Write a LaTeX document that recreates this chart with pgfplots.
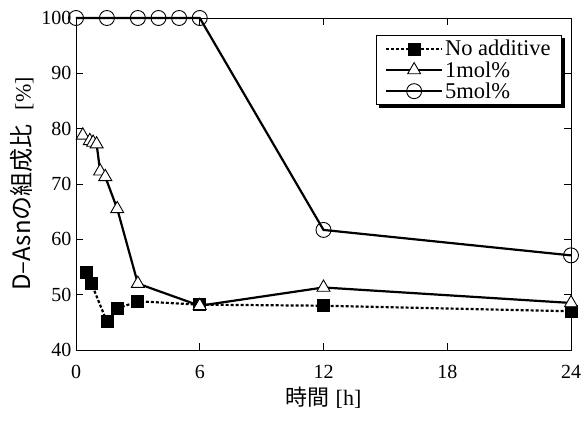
\documentclass[border=0pt]{standalone}
\usepackage{pgfplots}
\pgfplotsset{compat=1.18}
\usepackage{fontspec}
\setmainfont{Liberation Serif}
\newfontfamily\jp{Noto Sans CJK JP}
\begin{document}
\begin{tikzpicture}
\useasboundingbox (0,0) rectangle (584pt,421pt);
\begin{axis}[
  at={(76pt,71pt)}, anchor=south west,
  scale only axis, width=495pt, height=332pt,
  xmin=0, xmax=24, ymin=40, ymax=100,
  xtick={0,6,12,18,24}, ytick={40,50,...,100},
  tick align=inside, major tick length=7pt,
  tick style={black, line width=0.7pt},
  axis line style={line width=0.9pt},
  clip=false,
  tick label style={font=\fontsize{20}{20}\selectfont},
  /pgf/number format/assume math mode=true,
  xticklabel style={yshift=-12pt},
  yticklabel style={xshift=-1pt},
  xlabel={{\jp 時間}\hspace{6pt}[h]},
  ylabel={{\fontsize{24}{24}\selectfont\jp D–Asnの組成比}\hspace{14pt}[\%]},
  label style={font=\fontsize{22}{22}\selectfont},
  xlabel style={yshift=-1pt},
  ylabel style={yshift=1pt},
  legend style={at={(0.982,0.949)}, anchor=north east, name=leg,
    font=\fontsize{22.5}{24}\selectfont, draw=black, line width=0.9pt,
    fill=white, row sep=0pt, inner xsep=9pt, inner ysep=3pt},
  legend cell align=left,
  legend image code/.code={\draw[mark repeat=2,mark phase=2,#1,line width=1.8pt] plot coordinates {(0pt,0pt) (28pt,0pt) (56pt,0pt)};},
]
\addplot[black, line width=2.2pt, dash pattern=on 3pt off 2pt, mark=square*, mark size=6pt, mark options={solid, fill=black, line width=0.8pt}]
  coordinates {(0.5,54) (0.75,52) (1.5,45.1) (2,47.5) (3,48.8) (6,48.2) (12,48) (24,47)};
\addlegendentry{No additive}
\addplot[black, line width=2.2pt, mark=triangle*, mark size=7.5pt, mark options={solid, fill=white, line width=0.9pt}]
  coordinates {(0.33,78.8) (0.67,77.8) (0.83,77.5) (1.0,77.2) (1.17,72.3) (1.42,71.3) (2,65.5) (3,52) (6,48) (12,51.3) (24,48.5)};
\addlegendentry{1mol\%}
\addplot[black, line width=2.2pt, mark=o, mark size=7.5pt, mark options={solid, fill=white, line width=0.9pt}]
  coordinates {(0,100) (1.5,100) (3,100) (4,100) (5,100) (6,100) (12,61.7) (24,57.1)};
\addlegendentry{5mol\%}
\end{axis}
\fill[black] ([xshift=3pt,yshift=-3pt]leg.south west) rectangle ([xshift=3pt]leg.south east);
\fill[black] ([yshift=-3pt]leg.north east) rectangle ([xshift=3pt,yshift=-3pt]leg.south east);
\end{tikzpicture}
\end{document}
